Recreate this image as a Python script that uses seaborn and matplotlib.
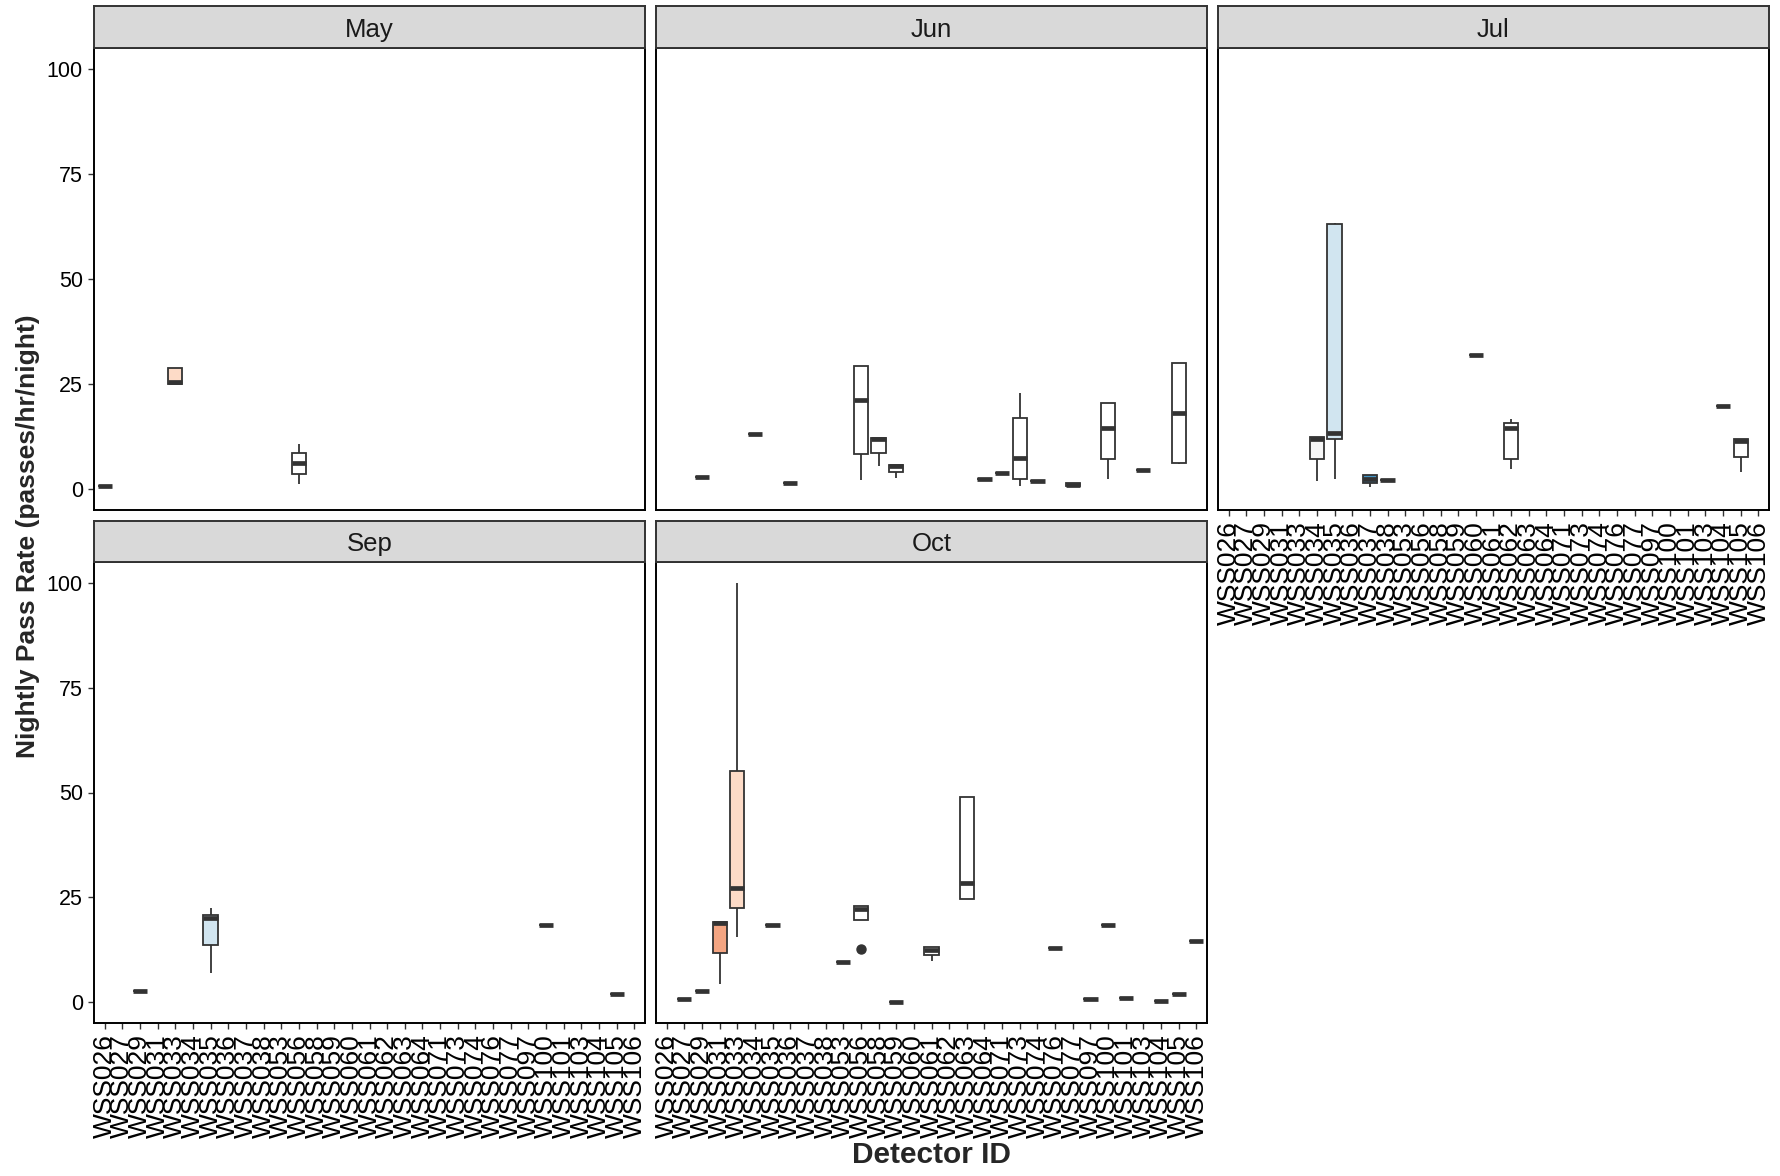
import pandas as pd
import seaborn as sns
import matplotlib
matplotlib.use("Agg")
import matplotlib.pyplot as plt

detectors = ["WSS026", "WSS027", "WSS029", "WSS031", "WSS033", "WSS034", "WSS035",
             "WSS036", "WSS037", "WSS038", "WSS053", "WSS056", "WSS058", "WSS059",
             "WSS060", "WSS061", "WSS062", "WSS063", "WSS064", "WSS071", "WSS073",
             "WSS074", "WSS076", "WSS077", "WSS097", "WSS100", "WSS101", "WSS103",
             "WSS104", "WSS105", "WSS106"]

# nightly pass rates per detector, one list per month
may_ids = ["WSS026", "WSS033", "WSS056"]
may_vals = [[0.7], [25.0, 25.0, 25.5, 28.7, 28.7], [1.1, 3.5, 6.1, 8.5, 10.7]]
may_fill = ["#FFFFFF", "#FDDBC7", "#FFFFFF"]

jun_ids = ["WSS029", "WSS034", "WSS036", "WSS056", "WSS058", "WSS059", "WSS064",
           "WSS071", "WSS073", "WSS074", "WSS077", "WSS100", "WSS103", "WSS105"]
jun_vals = [[2.9], [13.1], [1.5], [2.1, 8.4, 21.1, 29.2, 29.2], [5.4, 8.5, 11.9, 12.2, 12.2],
            [2.7, 4.1, 5.4, 5.7, 5.7], [2.5], [3.8], [0.6, 2.5, 7.3, 16.9, 22.9], [1.8],
            [0.7, 0.7, 1.0, 1.4, 1.4], [2.5, 7.1, 14.6, 20.5, 20.5], [4.6],
            [5.9, 6.1, 18.1, 29.9, 29.9]]
jun_fill = ["#FFFFFF"] * 14

jul_ids = ["WSS034", "WSS035", "WSS037", "WSS038", "WSS060", "WSS062", "WSS104", "WSS105"]
jul_vals = [[1.9, 7.1, 12.0, 12.4, 12.4], [2.5, 11.9, 13.4, 63.2, 63.4], [0.5, 1.5, 2.4, 3.3, 3.3],
            [2.2], [31.8], [4.7, 7.1, 14.5, 15.8, 16.7], [19.8], [4.1, 7.7, 11.5, 11.8, 11.8]]
jul_fill = ["#F7F7F7", "#D1E5F0", "#4393C3", "#FFFFFF", "#FFFFFF", "#FFFFFF", "#FFFFFF", "#FFFFFF"]

sep_ids = ["WSS029", "WSS035", "WSS100", "WSS105"]
sep_vals = [[2.6], [7.0, 13.7, 20.1, 20.8, 22.5], [18.3], [2.0]]
sep_fill = ["#FFFFFF", "#D1E5F0", "#FFFFFF", "#FFFFFF"]

oct_ids = ["WSS027", "WSS029", "WSS031", "WSS033", "WSS035", "WSS053", "WSS056", "WSS059",
           "WSS061", "WSS063", "WSS076", "WSS097", "WSS100", "WSS101", "WSS104", "WSS105", "WSS106"]
oct_vals = [[0.7], [2.6], [4.3, 11.7, 18.8, 19.1, 19.1], [15.6, 22.4, 27.3, 55.2, 100.0], [18.3],
            [9.6], [12.6, 19.6, 19.6, 22.2, 22.8, 22.8, 22.8], [0.0], [9.7, 11.2, 12.5, 13.1, 13.1],
            [24.5, 24.5, 28.3, 49.0, 49.0], [12.9], [0.8], [18.3], [1.0], [0.2], [2.0], [14.5]]
oct_fill = ["#FFFFFF", "#FFFFFF", "#F4A582", "#FDDBC7"] + ["#FFFFFF"] * 13

months = ["May", "Jun", "Jul", "Sep", "Oct"]
month_data = {"May": (may_ids, may_vals, may_fill), "Jun": (jun_ids, jun_vals, jun_fill),
              "Jul": (jul_ids, jul_vals, jul_fill), "Sep": (sep_ids, sep_vals, sep_fill),
              "Oct": (oct_ids, oct_vals, oct_fill)}

sns.set_style("white")
plt.rcParams["font.family"] = ["Liberation Sans", "DejaVu Sans"]

W, H = 1780, 1176
fig = plt.figure(figsize=(W / 100, H / 100), dpi=100)


def px_axes(x0, y0, x1, y1):
    return fig.add_axes([x0 / W, 1 - y1 / H, (x1 - x0) / W, (y1 - y0) / H])


col_x = [94, 656, 1218]
rows = [(6, 48, 510), (521, 562, 1023)]
layout = {"May": (0, 0), "Jun": (0, 1), "Jul": (0, 2), "Sep": (1, 0), "Oct": (1, 1)}

for m in months:
    r, c = layout[m]
    s_top, p_top, p_bot = rows[r]
    x0, x1 = col_x[c], col_x[c] + 551

    ids, vals, fills = month_data[m]
    df = pd.DataFrame({"detector": [d for d, v in zip(ids, vals) for _ in v],
                       "rate": [x for v in vals for x in v]})

    ax = px_axes(x0, p_top, x1, p_bot)
    sns.boxplot(data=df, x="detector", y="rate", hue="detector", order=detectors,
                palette=dict(zip(ids, fills)), saturation=1, legend=False, width=0.8,
                linecolor="#333333", linewidth=1.3, ax=ax,
                medianprops=dict(linewidth=3.4, color="#333333"),
                capprops=dict(linewidth=0),
                flierprops=dict(marker="o", markersize=6.5, markerfacecolor="#333333",
                                markeredgecolor="#333333"))
    ax.set_xlim(-0.6, len(detectors) - 0.4)
    ax.set_ylim(-5, 105)
    ax.set_xlabel("")
    ax.set_ylabel("")
    for sp in ax.spines.values():
        sp.set_visible(True)
        sp.set_color("black")
        sp.set_linewidth(1.4)

    ax.set_yticks([0, 25, 50, 75, 100])
    if c == 0:
        ax.tick_params(axis="y", length=4.5, width=1, color="#333333", labelsize=15.5,
                       labelcolor="black", pad=3.5, left=True)
    else:
        ax.tick_params(axis="y", left=False, labelleft=False)

    ax.set_xticks(range(len(detectors)))
    if m in ("Jul", "Sep", "Oct"):
        ax.set_xticklabels(detectors, rotation=90)
        ax.tick_params(axis="x", length=4.5, width=1, color="#333333", labelsize=19,
                       labelcolor="black", pad=3.5, bottom=True)
    else:
        ax.tick_params(axis="x", bottom=False, labelbottom=False)

    sax = px_axes(x0, s_top, x1, p_top)
    sax.set_facecolor("#D9D9D9")
    sax.set_xticks([])
    sax.set_yticks([])
    for sp in sax.spines.values():
        sp.set_color("#333333")
        sp.set_linewidth(1.4)
    sax.text(0.5, 0.44, m, ha="center", va="center", fontsize=18.5, color="#1A1A1A",
             transform=sax.transAxes)

fig.text(28 / W, 1 - 536 / H, "Nightly Pass Rate (passes/hr/night)", rotation=90,
         ha="center", va="center", fontsize=19, fontweight="bold")
fig.text(931 / W, 1 - 1155 / H, "Detector ID", ha="center", va="center",
         fontsize=21.5, fontweight="bold")

fig.savefig("out.png", dpi=100)
